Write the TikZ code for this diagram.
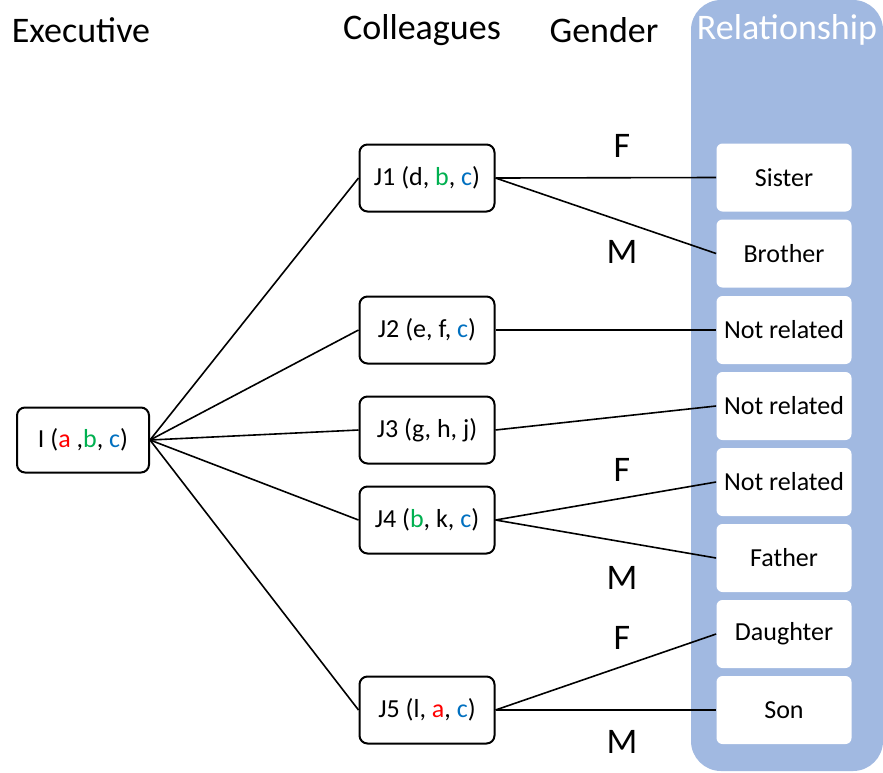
\documentclass[tikz,border=0pt]{standalone}
\usepackage{fontspec}
\setmainfont{Carlito}
\usepackage{xcolor}
\usetikzlibrary{positioning}

\definecolor{panelblue}{RGB}{161,185,225}
\definecolor{letred}{RGB}{255,0,0}
\definecolor{letgreen}{RGB}{0,176,80}
\definecolor{letblue}{RGB}{0,112,192}

\newcommand{\ra}{\textcolor{letred}{a}}
\newcommand{\gb}{\textcolor{letgreen}{b}}
\newcommand{\bc}{\textcolor{letblue}{c}}

\tikzset{
    person/.style = {draw = black, line width = 1pt, rounded corners = 4pt, fill = white,
                     minimum width = 67.5pt, minimum height = 33.5pt, font = \fontsize{13}{15}\selectfont},
    relation/.style = {fill = white, rounded corners = 3pt,
                       minimum width = 67.5pt, minimum height = 34pt, font = \fontsize{13}{15}\selectfont},
    heading/.style = {font = \fontsize{18}{21}\selectfont},
    link/.style = {black, line width = 0.8pt}
}

\begin{document}
\begin{tikzpicture}[x = 0.5pt, y = -0.5pt]
            \useasboundingbox (0, 0) rectangle (883, 772);

            % Relationship column
            \fill[panelblue, rounded corners = 15pt] (691, 0) rectangle (883, 771);

            \node[heading] (h_exec) at (81, 30) {Executive};
            \node[heading] (h_coll) at (422, 30) {Colleagues};
            \node[heading] (h_gend) at (604, 30) {Gender};
            \node[heading, white] (h_rel) at (787, 30) {Relationship};

            % Executive and colleagues
            \node[person, minimum width = 66pt, minimum height = 32.5pt] (exec) at (83, 440) {I (\ra{} ,\gb, \bc)};
            \node[person] (j1) at (427, 178) {J1 (d, \gb, \bc)};
            \node[person] (j2) at (427, 330) {J2 (e, f, \bc)};
            \node[person] (j3) at (427, 430) {J3 (g, h, j)};
            \node[person] (j4) at (427, 520) {J4 (\gb, k, \bc)};
            \node[person] (j5) at (427, 710) {J5 (l, \ra, \bc)};

            % Relationships
            \node[relation] (sister) at (784, 177.5) {Sister};
            \node[relation] (brother) at (784, 253.5) {Brother};
            \node[relation] (nr_a) at (784, 330) {Not related};
            \node[relation] (nr_b) at (784, 406) {Not related};
            \node[relation] (nr_c) at (784, 482) {Not related};
            \node[relation] (father) at (784, 558) {Father};
            \node[relation] (daughter) at (784, 634) {Daughter};
            \node[relation] (son) at (784, 710) {Son};

            \foreach \j in {j1, j2, j3, j4, j5}
                \draw[link] (exec.east) -- (\j.west);

            \draw[link] (j1.east) -- (sister.west);
            \draw[link] (j1.east) -- (brother.west);
            \draw[link] (j2.east) -- (nr_a.west);
            \draw[link] (j3.east) -- (nr_b.west);
            \draw[link] (j4.east) -- (nr_c.west);
            \draw[link] (j4.east) -- (father.west);
            \draw[link] (j5.east) -- (daughter.west);
            \draw[link] (j5.east) -- (son.west);

            % Gender
            \node[heading] (g_f1) at (622, 146) {F};
            \node[heading] (g_m1) at (622, 252) {M};
            \node[heading] (g_f4) at (622, 470) {F};
            \node[heading] (g_m4) at (622, 578) {M};
            \node[heading] (g_f5) at (622, 638) {F};
            \node[heading] (g_m5) at (622, 742) {M};
        \end{tikzpicture}
\end{document}
